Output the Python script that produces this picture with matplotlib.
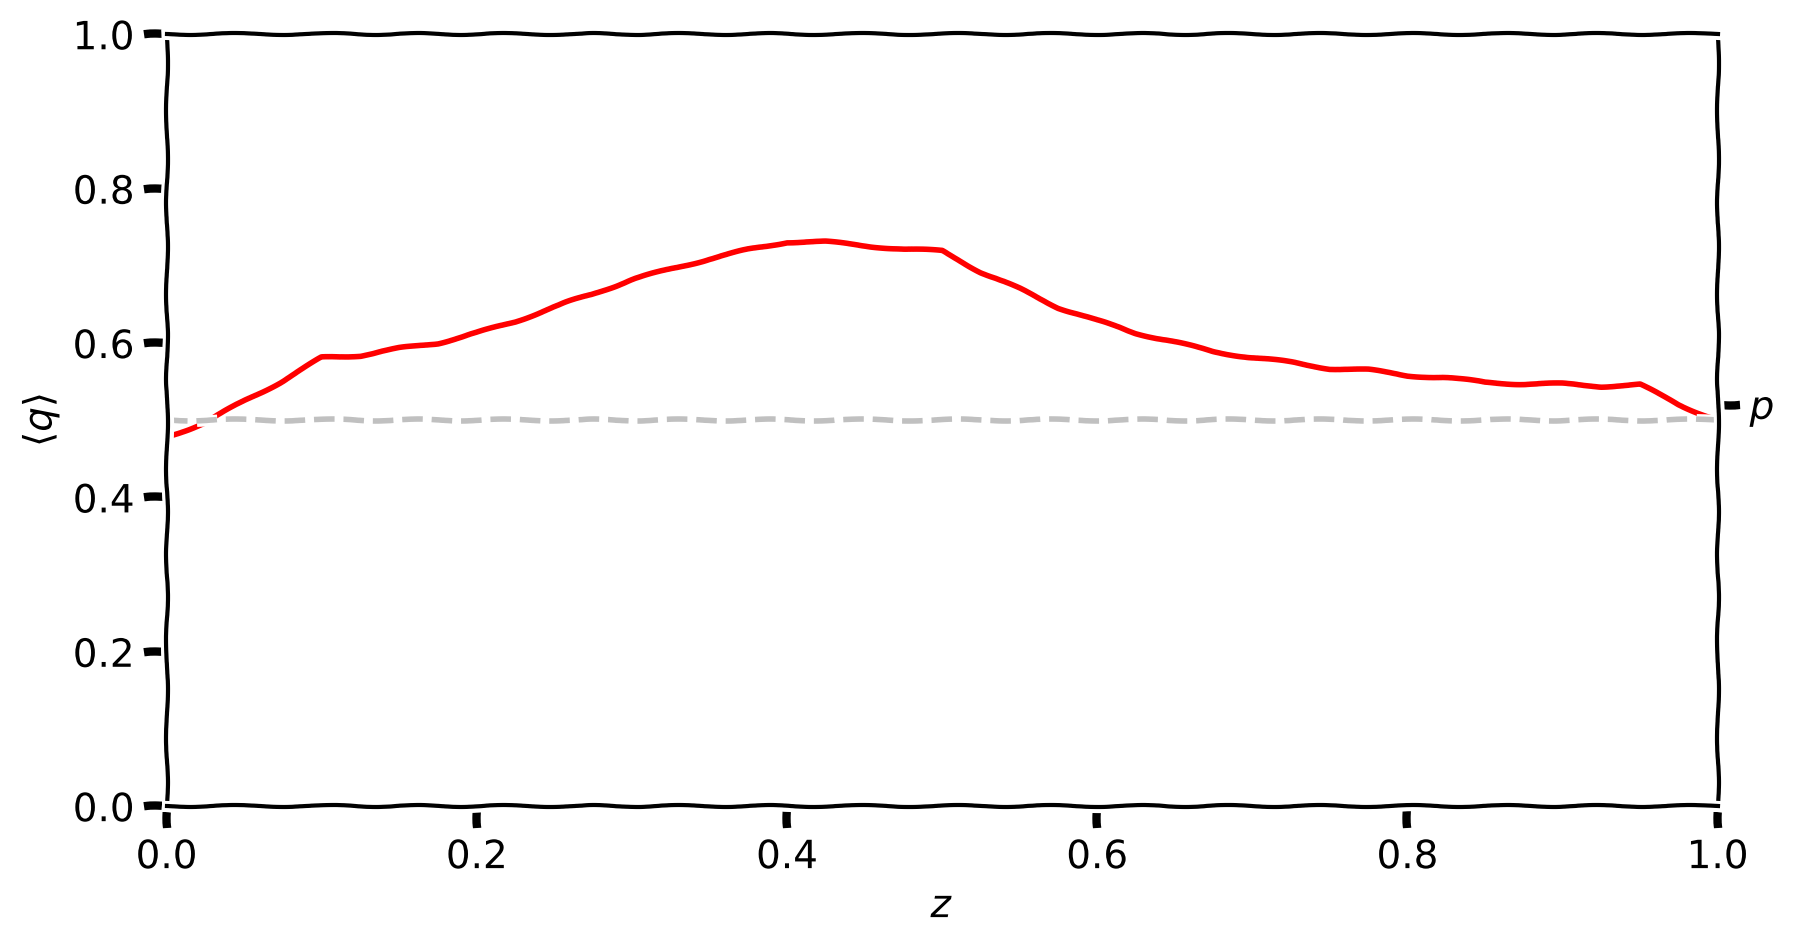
import numpy as np
import matplotlib
matplotlib.use("Agg")
import matplotlib.pyplot as plt

# mean q along z
z = [0.000, 0.025, 0.050, 0.075, 0.100, 0.125, 0.150, 0.175, 0.200, 0.225,
     0.250, 0.275, 0.300, 0.325, 0.350, 0.375, 0.400, 0.425, 0.450, 0.475,
     0.500, 0.525, 0.550, 0.575, 0.600, 0.625, 0.650, 0.675, 0.700, 0.725,
     0.750, 0.775, 0.800, 0.825, 0.850, 0.875, 0.900, 0.925, 0.950, 0.975,
     1.000]
q_mean = [0.478, 0.497, 0.525, 0.551, 0.581, 0.584, 0.593, 0.600, 0.613, 0.628,
          0.647, 0.664, 0.682, 0.696, 0.709, 0.721, 0.731, 0.731, 0.726, 0.722,
          0.719, 0.692, 0.670, 0.646, 0.629, 0.613, 0.601, 0.589, 0.581, 0.575,
          0.567, 0.565, 0.558, 0.555, 0.549, 0.547, 0.547, 0.544, 0.546, 0.520,
          0.500]
p = 0.5
p_tick = 0.52

with plt.xkcd():
    plt.rcParams['font.family'] = ['DejaVu Sans']
    fig, ax = plt.subplots(figsize=(8.965, 4.72), dpi=200)
    fig.subplots_adjust(left=0.0929, right=0.958, top=0.9637, bottom=0.146)

    ax.plot(z, q_mean, color='red')
    ax.axhline(p, color='silver', linestyle='--')
    ax.set_xlim(0, 1)
    ax.set_ylim(0, 1)
    ax.set_xlabel('$z$')
    ax.set_ylabel(r'$\langle q \rangle$')

    ax2 = ax.twinx()
    ax2.set_ylim(0, 1)
    ax2.set_yticks([p_tick])
    ax2.set_yticklabels(['$p$'])

    fig.savefig('out.png', dpi=200)
